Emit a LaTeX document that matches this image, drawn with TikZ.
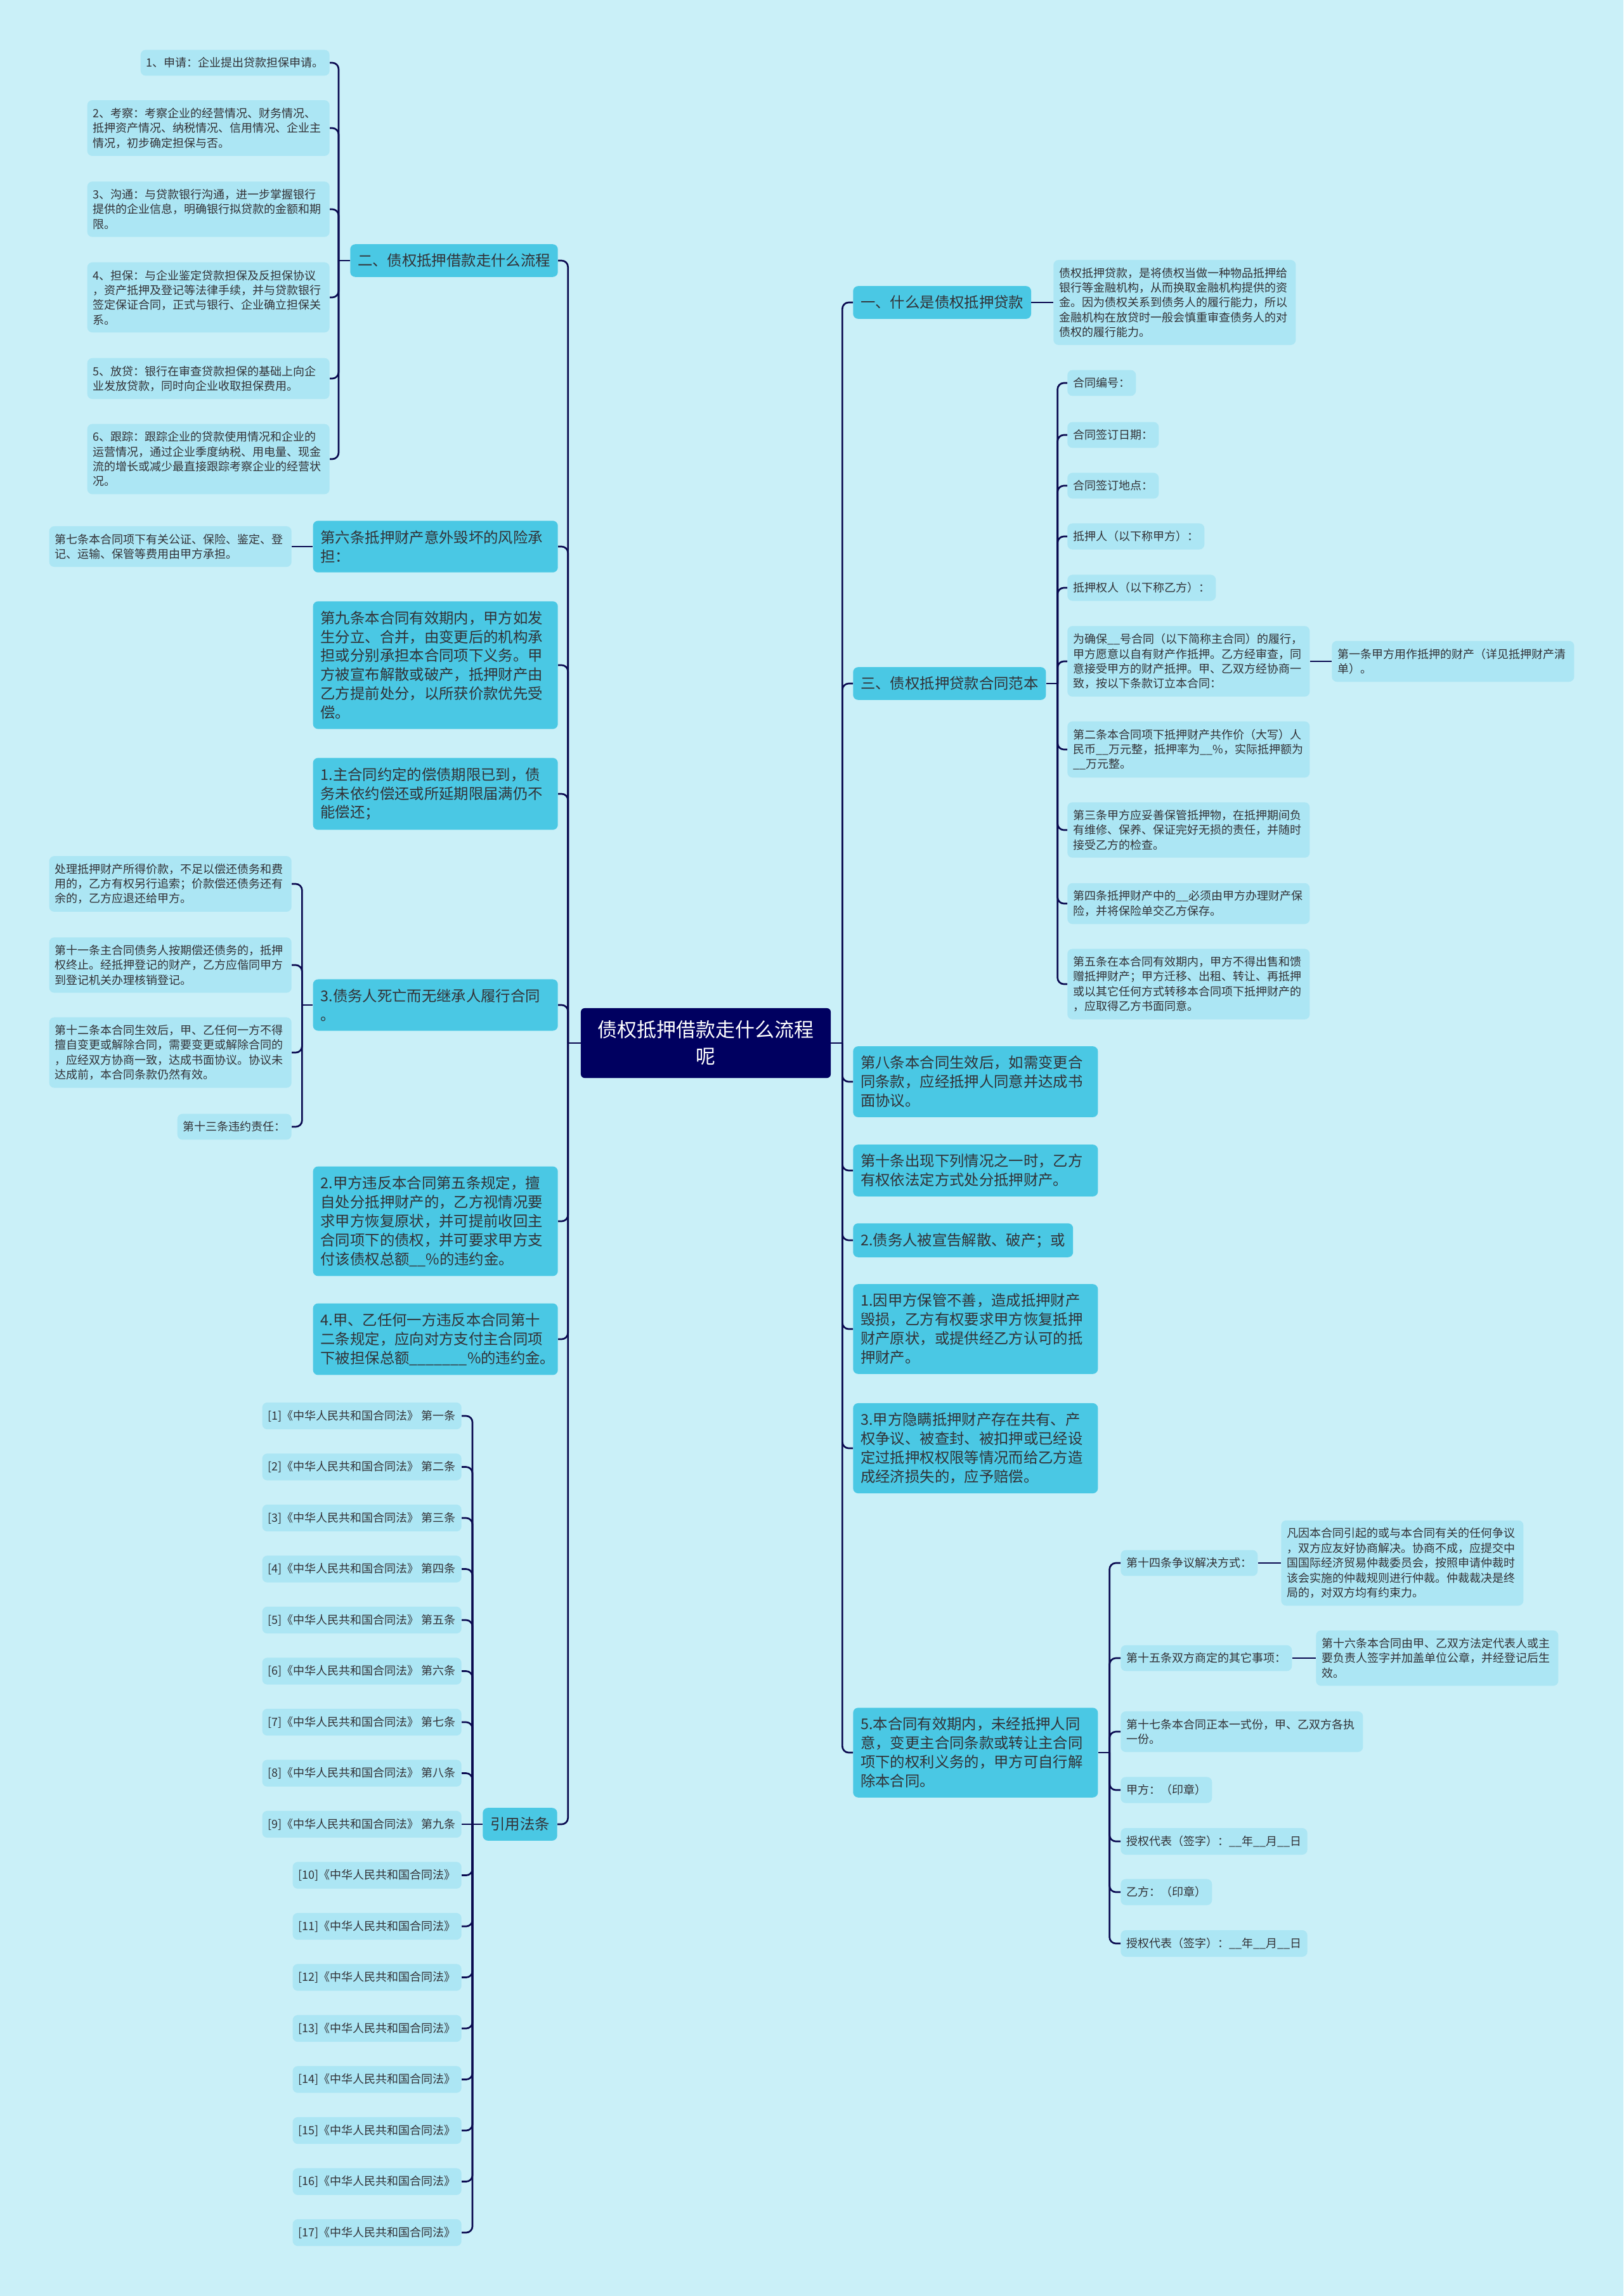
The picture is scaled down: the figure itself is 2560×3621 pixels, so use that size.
\documentclass[tikz,border=0pt]{standalone}
\usepackage{fontspec}
\setmainfont{Noto Sans CJK SC}
\definecolor{bgcyan}{RGB}{202,240,248}
\definecolor{topiccyan}{RGB}{74,200,228}
\definecolor{leafcyan}{RGB}{172,230,244}
\definecolor{rootnavy}{RGB}{0,0,96}
\definecolor{linenavy}{RGB}{10,10,80}
\definecolor{inkgray}{RGB}{50,50,55}
\newcommand{\rootfont}{\fontsize{22pt}{29.8pt}\selectfont}
\newcommand{\topicfont}{\fontsize{16.6pt}{21.3pt}\selectfont}
\newcommand{\leaffont}{\fontsize{12.8pt}{16.6pt}\selectfont}

\begin{document}
\begin{tikzpicture}[x=0.025cm, y=-0.025cm,
  link/.style={draw=linenavy, line width=1.9pt, rounded corners=0.25cm},
  rootbox/.style={fill=rootnavy, text=white, font=\rootfont, rounded corners=0.15cm,
    align=center, text width=8.85cm, inner xsep=0.5cm, inner ysep=0.5cm},
  topic/.style={fill=topiccyan, text=inkgray, font=\topicfont, rounded corners=0.2cm,
    inner xsep=0.3cm, inner ysep=0.375cm},
  widetopic/.style={topic, text width=9.05cm, align=left},
  leaf/.style={fill=leafcyan, text=inkgray, font=\leaffont, rounded corners=0.2cm,
    inner xsep=0.225cm, inner ysep=0.3cm},
  wideleaf/.style={leaf, text width=9.1cm, align=left}]

\fill[bgcyan] (0,0) rectangle (2560,3621);
\useasboundingbox (0,0) rectangle (2560,3621);

\node[rootbox] (root) at (1113,1645) {债权抵押借款走什么流程\\呢};

% left branches
\node[topic, anchor=east] (a1) at (880,411) {二、债权抵押借款走什么流程};
\node[widetopic, anchor=east] (a2) at (880,862) {第六条抵押财产意外毁坏的风险承\\担：};
\node[widetopic, anchor=east] (a3) at (880,1049) {第九条本合同有效期内，甲方如发\\生分立、合并，由变更后的机构承\\担或分别承担本合同项下义务。甲\\方被宣布解散或破产，抵押财产由\\乙方提前处分，以所获价款优先受\\偿。};
\node[widetopic, anchor=east] (a4) at (880,1252) {1.主合同约定的偿债期限已到，债\\务未依约偿还或所延期限届满仍不\\能偿还；};
\node[widetopic, anchor=east] (a5) at (880,1585) {3.债务人死亡而无继承人履行合同\\。};
\node[widetopic, anchor=east] (a6) at (880,1926) {2.甲方违反本合同第五条规定，擅\\自处分抵押财产的，乙方视情况要\\求甲方恢复原状，并可提前收回主\\合同项下的债权，并可要求甲方支\\付该债权总额\_\_\%的违约金。};
\node[widetopic, anchor=east] (a7) at (880,2112) {4.甲、乙任何一方违反本合同第十\\二条规定，应向对方支付主合同项\\下被担保总额\_\_\_\_\_\_\_\%的违约金。};
\node[topic, anchor=east] (a8) at (879,2877) {引用法条};

\node[leaf, anchor=east] (l1) at (520,99) {1、申请：企业提出贷款担保申请。};
\node[wideleaf, anchor=east] (l2) at (520,202) {2、考察：考察企业的经营情况、财务情况、\\抵押资产情况、纳税情况、信用情况、企业主\\情况，初步确定担保与否。};
\node[wideleaf, anchor=east] (l3) at (520,330) {3、沟通：与贷款银行沟通，进一步掌握银行\\提供的企业信息，明确银行拟贷款的金额和期\\限。};
\node[wideleaf, anchor=east] (l4) at (520,469) {4、担保：与企业鉴定贷款担保及反担保协议\\，资产抵押及登记等法律手续，并与贷款银行\\签定保证合同，正式与银行、企业确立担保关\\系。};
\node[wideleaf, anchor=east] (l5) at (520,597) {5、放贷：银行在审查贷款担保的基础上向企\\业发放贷款，同时向企业收取担保费用。};
\node[wideleaf, anchor=east] (l6) at (520,724) {6、跟踪：跟踪企业的贷款使用情况和企业的\\运营情况，通过企业季度纳税、用电量、现金\\流的增长或减少最直接跟踪考察企业的经营状\\况。};

\node[wideleaf, anchor=east] (a2c) at (460,862) {第七条本合同项下有关公证、保险、鉴定、登\\记、运输、保管等费用由甲方承担。};

\node[wideleaf, anchor=east] (c1) at (460,1394) {处理抵押财产所得价款，不足以偿还债务和费\\用的，乙方有权另行追索；价款偿还债务还有\\余的，乙方应退还给甲方。};
\node[wideleaf, anchor=east] (c2) at (460,1522) {第十一条主合同债务人按期偿还债务的，抵押\\权终止。经抵押登记的财产，乙方应偕同甲方\\到登记机关办理核销登记。};
\node[wideleaf, anchor=east] (c3) at (460,1660) {第十二条本合同生效后，甲、乙任何一方不得\\擅自变更或解除合同，需要变更或解除合同的\\，应经双方协商一致，达成书面协议。协议未\\达成前，本合同条款仍然有效。};
\node[leaf, anchor=east] (c4) at (460,1777) {第十三条违约责任：};

\foreach \i/\art in {1/第一条,2/第二条,3/第三条,4/第四条,5/第五条,6/第六条,7/第七条,8/第八条,9/第九条}
  \node[leaf, anchor=east] (ref\i) at (728,{2233+(\i-1)*80.5}) {[\i]《中华人民共和国合同法》 \art};
\foreach \i in {10,...,17}
  \node[leaf, anchor=east] (ref\i) at (728,{2233+(\i-1)*80.5}) {[\i]《中华人民共和国合同法》};

% right branches
\node[topic, anchor=west] (b1) at (1345,477) {一、什么是债权抵押贷款};
\node[topic, anchor=west] (b2) at (1345,1078) {三、债权抵押贷款合同范本};
\node[widetopic, anchor=west] (b3) at (1345,1706) {第八条本合同生效后，如需变更合\\同条款，应经抵押人同意并达成书\\面协议。};
\node[widetopic, anchor=west] (b4) at (1345,1846) {第十条出现下列情况之一时，乙方\\有权依法定方式处分抵押财产。};
\node[topic, anchor=west] (b5) at (1345,1956) {2.债务人被宣告解散、破产；或};
\node[widetopic, anchor=west] (b6) at (1345,2096) {1.因甲方保管不善，造成抵押财产\\毁损，乙方有权要求甲方恢复抵押\\财产原状，或提供经乙方认可的抵\\押财产。};
\node[widetopic, anchor=west] (b7) at (1345,2284) {3.甲方隐瞒抵押财产存在共有、产\\权争议、被查封、被扣押或已经设\\定过抵押权权限等情况而给乙方造\\成经济损失的，应予赔偿。};
\node[widetopic, anchor=west] (b8) at (1345,2764) {5.本合同有效期内，未经抵押人同\\意，变更主合同条款或转让主合同\\项下的权利义务的，甲方可自行解\\除本合同。};

\node[wideleaf, anchor=west] (b1c) at (1661,477) {债权抵押贷款，是将债权当做一种物品抵押给\\银行等金融机构，从而换取金融机构提供的资\\金。因为债权关系到债务人的履行能力，所以\\金融机构在放贷时一般会慎重审查债务人的对\\债权的履行能力。};

\node[leaf, anchor=west] (s1) at (1683,604) {合同编号：};
\node[leaf, anchor=west] (s2) at (1683,686) {合同签订日期：};
\node[leaf, anchor=west] (s3) at (1683,766) {合同签订地点：};
\node[leaf, anchor=west] (s4) at (1683,846) {抵押人（以下称甲方）：};
\node[leaf, anchor=west] (s5) at (1683,927) {抵押权人（以下称乙方）：};
\node[wideleaf, anchor=west] (s6) at (1683,1043) {为确保\_\_号合同（以下简称主合同）的履行，\\甲方愿意以自有财产作抵押。乙方经审查，同\\意接受甲方的财产抵押。甲、乙双方经协商一\\致，按以下条款订立本合同：};
\node[wideleaf, anchor=west] (s7) at (1683,1182) {第二条本合同项下抵押财产共作价（大写）人\\民币\_\_万元整，抵押率为\_\_\%，实际抵押额为\\\_\_万元整。};
\node[wideleaf, anchor=west] (s8) at (1683,1309) {第三条甲方应妥善保管抵押物，在抵押期间负\\有维修、保养、保证完好无损的责任，并随时\\接受乙方的检查。};
\node[wideleaf, anchor=west] (s9) at (1683,1425) {第四条抵押财产中的\_\_必须由甲方办理财产保\\险，并将保险单交乙方保存。};
\node[wideleaf, anchor=west] (s10) at (1683,1552) {第五条在本合同有效期内，甲方不得出售和馈\\赠抵押财产；甲方迁移、出租、转让、再抵押\\或以其它任何方式转移本合同项下抵押财产的\\，应取得乙方书面同意。};
\node[wideleaf, anchor=west] (s6c) at (2100,1043) {第一条甲方用作抵押的财产（详见抵押财产清\\单）。};

\node[leaf, anchor=west] (t1) at (1767,2465) {第十四条争议解决方式：};
\node[leaf, anchor=west] (t2) at (1767,2615) {第十五条双方商定的其它事项：};
\node[wideleaf, anchor=west] (t3) at (1767,2731) {第十七条本合同正本一式份，甲、乙双方各执\\一份。};
\node[leaf, anchor=west] (t4) at (1767,2823) {甲方：（印章）};
\node[leaf, anchor=west] (t5) at (1767,2904) {授权代表（签字）：\_\_年\_\_月\_\_日};
\node[leaf, anchor=west] (t6) at (1767,2984) {乙方：（印章）};
\node[leaf, anchor=west] (t7) at (1767,3065) {授权代表（签字）：\_\_年\_\_月\_\_日};
\node[wideleaf, anchor=west] (t1c) at (2020,2465) {凡因本合同引起的或与本合同有关的任何争议\\，双方应友好协商解决。协商不成，应提交中\\国国际经济贸易仲裁委员会，按照申请仲裁时\\该会实施的仲裁规则进行仲裁。仲裁裁决是终\\局的，对双方均有约束力。};
\node[wideleaf, anchor=west] (t2c) at (2075,2615) {第十六条本合同由甲、乙双方法定代表人或主\\要负责人签字并加盖单位公章，并经登记后生\\效。};

% connectors
\draw[link] (root.west) -- ++(-20,0) coordinate (lt);
\draw[link] (root.east) -- ++(18,0) coordinate (rt);
\foreach \i in {1,...,8} \draw[link] (lt) |- (a\i.east);
\foreach \i in {1,...,8} \draw[link] (rt) |- (b\i.west);

\draw[link] (a1.west) -- ++(-18,0) coordinate (a1t);
\foreach \i in {1,...,6} \draw[link] (a1t) |- (l\i.east);
\draw[link] (a2.west) -- (a2c.east);
\draw[link] (a5.west) -- ++(-17,0) coordinate (a5t);
\foreach \i in {1,...,4} \draw[link] (a5t) |- (c\i.east);
\draw[link] (a8.west) -- ++(-16,0) coordinate (a8t);
\foreach \i in {1,...,8,10,11,...,17} \draw[link] (a8t) |- (ref\i.east);
\draw[link] (a8t) -- (ref9.east);

\draw[link] (b1.east) -- (b1c.west);
\draw[link] (b2.east) -- ++(18,0) coordinate (b2t);
\foreach \i in {1,...,10} \draw[link] (b2t) |- (s\i.west);
\draw[link] (s6.east) -- (s6c.west);
\draw[link] (b8.east) -- ++(18,0) coordinate (b8t);
\foreach \i in {1,...,7} \draw[link] (b8t) |- (t\i.west);
\draw[link] (t1.east) -- (t1c.west);
\draw[link] (t2.east) -- (t2c.west);
\end{tikzpicture}
\end{document}
